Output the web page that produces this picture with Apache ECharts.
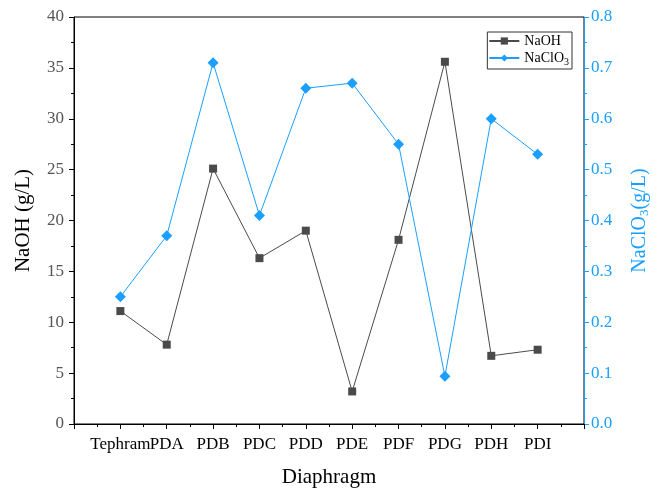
<!DOCTYPE html>
<html>
<head>
<meta charset="utf-8">
<script src="https://cdn.jsdelivr.net/npm/echarts@6/dist/echarts.min.js"></script>
<style>
    html, body { margin: 0; padding: 0; background: #fff; }
    #chart { width: 659px; height: 493px; }
</style>
</head>
<body>
<div id="chart"></div>
<script>
const categories = ['Tephram', 'PDA', 'PDB', 'PDC', 'PDD', 'PDE', 'PDF', 'PDG', 'PDH', 'PDI'];
const naoh = [11.1, 7.8, 25.1, 16.3, 19.0, 3.2, 18.1, 35.6, 6.7, 7.3];
const naclo3 = [0.25, 0.37, 0.71, 0.41, 0.66, 0.67, 0.55, 0.094, 0.60, 0.53];

const font = 'Liberation Serif';
const blue = '#1a9fff';

// categories sit at 1..10 on a 0..11 value axis
const toPoints = arr => arr.map((v, i) => [i + 1, v]);

const chart = echarts.init(document.getElementById('chart'));

chart.setOption({
    animation: false,
    textStyle: { fontFamily: font },
    grid: {
        left: 74, right: 75, top: 17, bottom: 66,
        show: true, borderColor: '#000', borderWidth: 1
    },
    legend: {
        right: 87, top: 32,
        orient: 'vertical',
        itemGap: 3,
        itemWidth: 30,
        itemHeight: 9,
        padding: [2, 3, 2, 1],
        borderColor: '#333',
        borderWidth: 1,
        data: ['NaOH', 'NaClO3'],
        formatter: name => name === 'NaClO3' ? 'NaClO{s|3}' : name,
        textStyle: {
            fontFamily: font, fontSize: 14, color: '#000',
            rich: { s: { fontSize: 10, verticalAlign: 'bottom', padding: [8, 0, 0, 0], fontFamily: font } }
        }
    },
    xAxis: {
        type: 'value',
        min: 0, max: 11, interval: 1,
        name: 'Diaphragm',
        nameLocation: 'middle',
        nameGap: 43,
        nameTextStyle: { fontFamily: font, fontSize: 21, color: '#000' },
        axisLine: { lineStyle: { color: '#000' } },
        axisTick: { length: 5, lineStyle: { color: '#000' } },
        minorTick: { show: true, splitNumber: 2, length: 3, lineStyle: { color: '#000' } },
        splitLine: { show: false },
        axisLabel: {
            margin: 12,
            fontFamily: font, fontSize: 17, color: '#000',
            formatter: v => categories[v - 1] || ''
        }
    },
    yAxis: [
        {
            type: 'value',
            min: 0, max: 40, interval: 5,
            name: 'NaOH (g/L)',
            nameLocation: 'middle',
            nameGap: 40,
            nameTextStyle: { fontFamily: font, fontSize: 21, color: '#000' },
            axisLine: { show: true, lineStyle: { color: '#000' } },
            axisTick: { show: true, length: 5, lineStyle: { color: '#000' } },
            minorTick: { show: true, splitNumber: 2, length: 3, lineStyle: { color: '#000' } },
            splitLine: { show: false },
            axisLabel: { margin: 10, fontFamily: font, fontSize: 17, color: '#555' }
        },
        {
            type: 'value',
            min: 0, max: 0.8, interval: 0.1,
            position: 'right',
            name: 'NaClO{s|3}(g/L)',
            nameLocation: 'middle',
            nameGap: 44,
            nameRotate: 90,
            nameTextStyle: {
                fontFamily: font, fontSize: 20, color: blue,
                rich: { s: { fontSize: 13, color: blue, fontFamily: font, padding: [10, 0, 0, 0] } }
            },
            axisLine: { show: true, lineStyle: { color: blue } },
            axisTick: { show: true, length: 5, lineStyle: { color: blue } },
            minorTick: { show: true, splitNumber: 2, length: 3, lineStyle: { color: blue } },
            splitLine: { show: false },
            axisLabel: {
                margin: 7, fontFamily: font, fontSize: 17, color: blue,
                formatter: v => v.toFixed(1)
            }
        }
    ],
    series: [
        {
            name: 'NaOH',
            type: 'line',
            yAxisIndex: 0,
            data: toPoints(naoh),
            symbol: 'rect',
            symbolSize: 8,
            itemStyle: { color: '#4a4a4a' },
            lineStyle: { color: '#4a4a4a', width: 1 }
        },
        {
            name: 'NaClO3',
            type: 'line',
            yAxisIndex: 1,
            data: toPoints(naclo3),
            symbol: 'diamond',
            symbolSize: 11,
            itemStyle: { color: blue },
            lineStyle: { color: blue, width: 1 }
        }
    ]
});
</script>
</body>
</html>
